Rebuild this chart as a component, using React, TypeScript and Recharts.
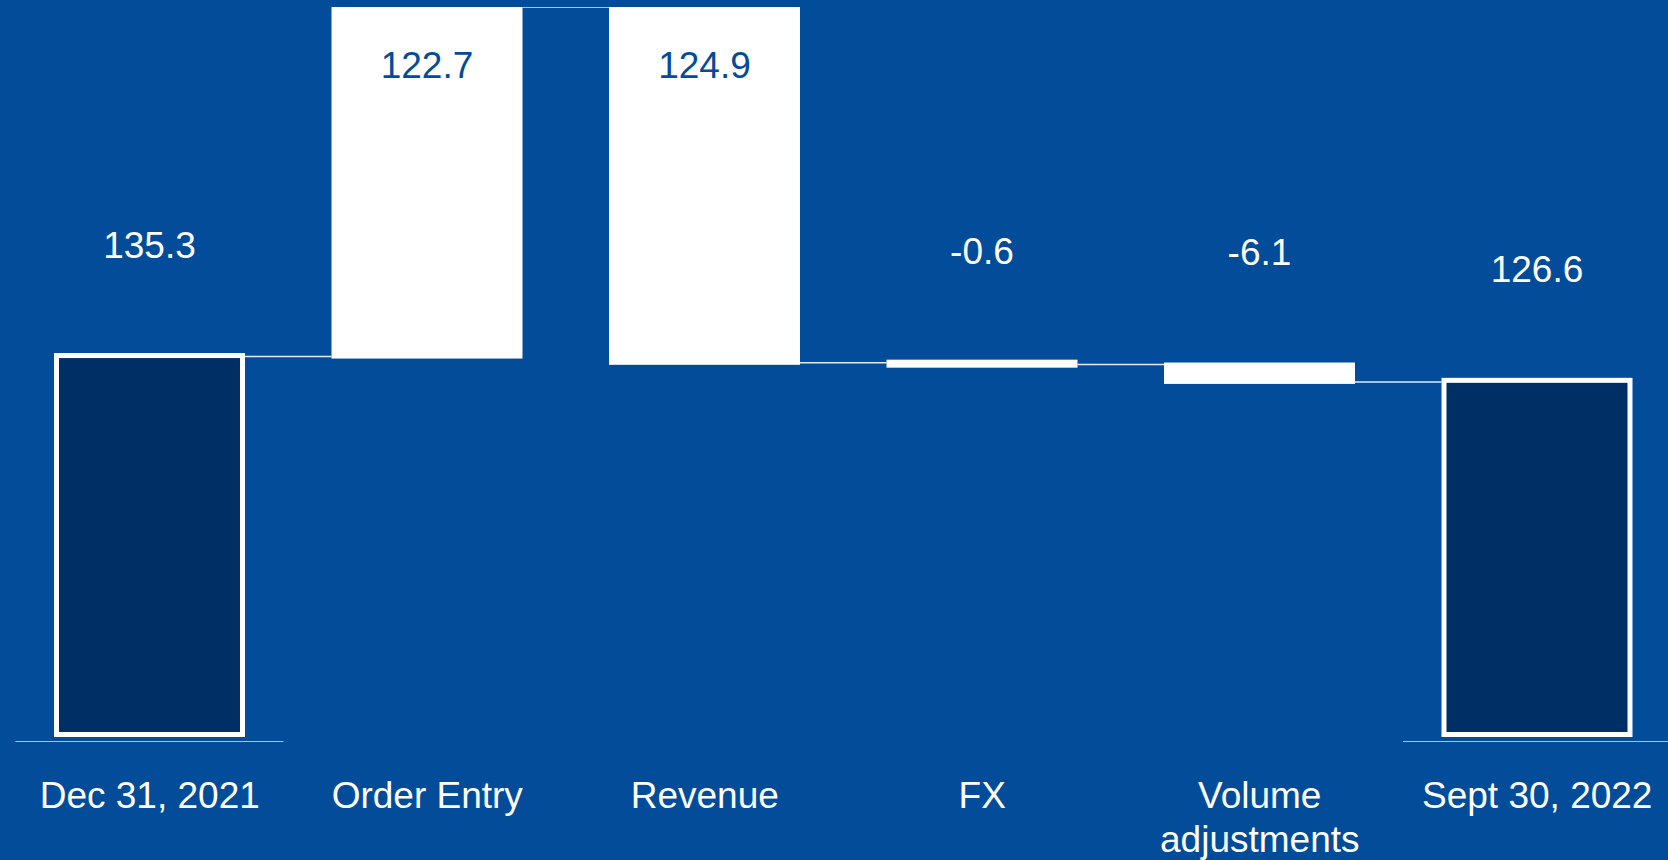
import React from "react";
import { BarChart, Bar, XAxis, YAxis } from "recharts";

const CATEGORIES = ["Dec 31, 2021", "Order Entry", "Revenue", "FX", "Volume adjustments", "Sept 30, 2022"];
const KINDS = ["total", "delta", "delta", "delta", "delta", "total"];
const VALUES = [135.3, 122.7, -124.9, -0.6, -6.1, 126.6];
const LABELS = ["135.3", "122.7", "124.9", "-0.6", "-6.1", "126.6"];

const BG = "#024c9a";
const DARK = "#002f66";
const LINE = "#e4ebf5";
const FONT = '"Liberation Sans", Arial, sans-serif';
const GAP = 86.5; // space between neighbouring bars, for the connectors

// floating ranges from the running total
let running = 0;
const data = CATEGORIES.map((name, i) => {
  let low: number, high: number;
  if (KINDS[i] === "total") {
    low = 0;
    high = VALUES[i];
    running = VALUES[i];
  } else {
    const next = running + VALUES[i];
    low = Math.min(running, next);
    high = Math.max(running, next);
    running = next;
  }
  return { name, kind: KINDS[i], delta: VALUES[i], label: LABELS[i], range: [low, high] };
});
const TOP = Math.max(...data.map((d) => d.range[1]));

function WaterfallBar(props: any) {
  const { x, y, width, height, payload } = props;
  const top = Math.min(y, y + height);
  const h = Math.abs(height);
  const bottom = top + h;
  const cx = x + width / 2;
  const isTotal = payload.kind === "total";
  const level = isTotal || payload.delta > 0 ? top : bottom;
  const last = payload.name === CATEGORIES[CATEGORIES.length - 1];
  const inside = !isTotal && h > 100;
  const drawH = Math.max(h, 4);
  return (
    <g>
      {!last && (
        <line x1={x + width} x2={x + width + GAP} y1={level} y2={level} stroke={LINE} strokeWidth={1.5} />
      )}
      {isTotal ? (
        <>
          <line x1={cx - 134} x2={cx + 134} y1={bottom} y2={bottom} stroke={LINE} strokeWidth={1.5} />
          <rect x={x + 2.5} y={top - 1} width={width - 5} height={h - 6.5} fill={DARK} stroke="#fff" strokeWidth={5} />
        </>
      ) : (
        <rect
          x={x + 2}
          y={top + h / 2 - drawH / 2}
          width={width - 4}
          height={drawH}
          fill="#fff"
          stroke="#fff"
          strokeWidth={4}
        />
      )}
      <text
        x={cx}
        y={inside ? top + 58 : top - 112}
        dy="0.35em"
        textAnchor="middle"
        fill={inside ? BG : "#fff"}
        fontSize={37}
        fontFamily={FONT}
      >
        {payload.label}
      </text>
    </g>
  );
}

function CategoryTick(props: any) {
  const { x, payload } = props;
  const text = String(payload.value);
  const lines = text.length > 14 ? text.split(" ") : [text];
  return (
    <text x={x} y={795} textAnchor="middle" fill="#fff" fontSize={37} fontFamily={FONT}>
      {lines.map((l, i) => (
        <tspan key={i} x={x} dy={i === 0 ? "0.35em" : 44}>
          {l}
        </tspan>
      ))}
    </text>
  );
}

export default function App() {
  return (
    <div
      style={{
        position: "absolute",
        left: 0,
        top: 0,
        width: 1668,
        height: 860,
        overflow: "hidden",
        background: BG,
      }}
    >
      <BarChart width={1676} height={860} data={data} margin={{ top: 7, right: 0, bottom: 0, left: 11 }}>
        <XAxis dataKey="name" axisLine={false} tickLine={false} height={118} interval={0} tick={(p: any) => <CategoryTick {...p} />} />
        <YAxis hide domain={[0, TOP]} allowDataOverflow />
        <Bar dataKey="range" barSize={191} isAnimationActive={false} shape={(p: any) => <WaterfallBar {...p} />} />
      </BarChart>
    </div>
  );
}
